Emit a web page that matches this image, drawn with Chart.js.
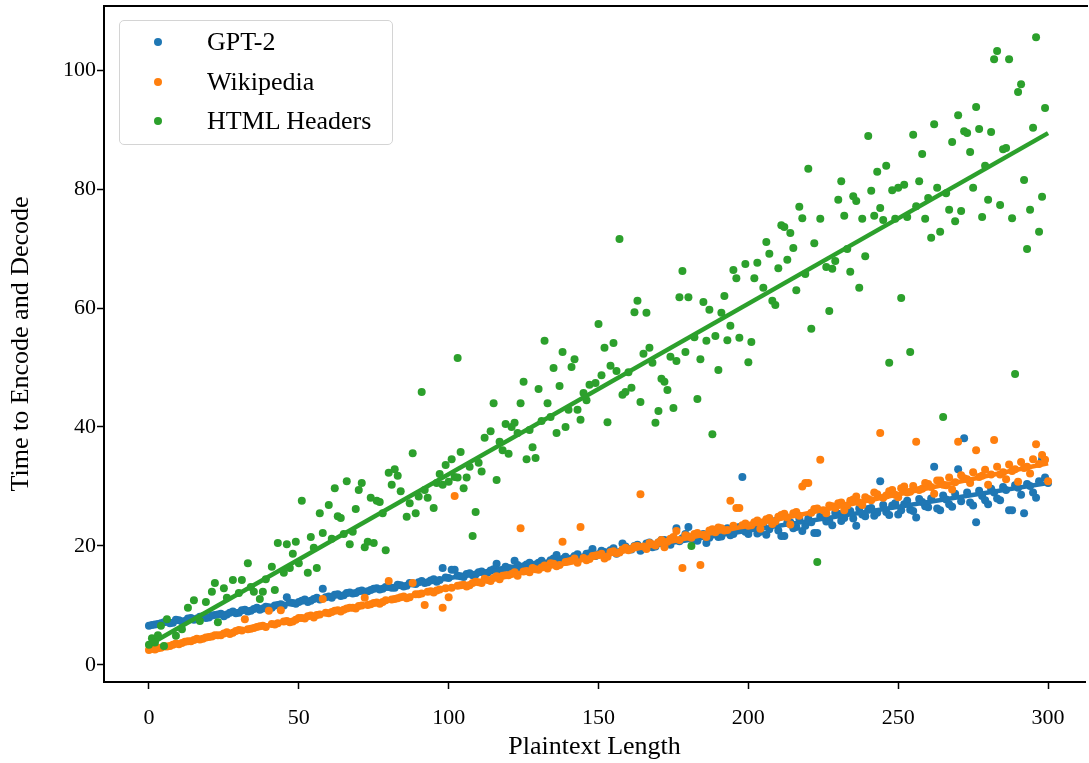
<!DOCTYPE html>
<html>
<head>
<meta charset="utf-8">
<script src="https://cdn.jsdelivr.net/npm/chart.js@4.4.1/dist/chart.umd.min.js"></script>
<style>
  html,body{margin:0;padding:0;background:#fff;overflow:hidden}
  #wrap{position:relative;width:1089px;height:763px}
  #legend{position:absolute;left:119px;top:20px;width:274px;height:125px;border:1px solid #d4d4d4;border-radius:5px;background:rgba(255,255,255,.8);
    font-family:'Liberation Serif','Times New Roman',serif;font-size:26px;color:#000;box-sizing:border-box}
  #legend .row{position:absolute;left:0;height:30px;line-height:30px}
  #legend .dot{position:absolute;left:34px;top:11px;width:8px;height:8px;border-radius:50%}
  #legend .txt{position:absolute;left:87px;top:0;white-space:nowrap}
</style>
</head>
<body>
<div id="wrap">
  <canvas id="chart" width="1089" height="763"></canvas>
  <div id="legend"></div>
</div>
<script>
// ── data ────────────────────────────────────────────────────────────────
const xTicks = [0, 50, 100, 150, 200, 250, 300];
const yTicks = [0, 20, 40, 60, 80, 100];

// GPT-2 and Wikipedia are sampled at every plaintext length 0..300
const evenLengths = Array.from({length:151}, (_, i) => i*2);
const oddLengths = Array.from({length:150}, (_, i) => i*2 + 1);

const gpt2EvenY = [
  6.6,6.8,7.0,7.3,7.1,7.5,7.4,7.9,7.8,8.2,
  8.0,8.4,8.6,8.5,9.0,8.8,9.3,9.1,9.6,9.5,
  9.7,10.0,10.2,11.4,10.4,10.6,11.0,10.8,11.3,12.8,
  11.5,11.8,11.6,12.1,12.0,12.4,12.3,12.6,12.9,12.8,
  13.1,13.0,13.4,13.3,13.7,13.9,13.8,14.2,14.0,16.3,
  14.6,16.0,14.9,15.3,15.1,15.6,15.4,15.9,17.0,16.0,
  16.3,17.5,16.4,16.9,16.7,17.2,17.0,17.6,18.5,17.8,
  17.5,18.3,18.0,18.7,19.5,18.6,19.0,19.3,18.7,20.4,
  19.5,20.0,19.2,20.4,19.8,20.6,21.0,20.2,23.0,21.3,
  23.2,21.0,21.8,20.5,22.2,21.5,22.5,21.8,22.8,31.6,
  22.0,23.5,22.4,21.9,23.8,22.6,21.7,24.0,23.2,22.5,
  24.6,22.2,25.0,24.1,23.5,25.4,24.7,25.9,23.4,25.3,
  26.2,25.1,30.9,25.7,26.8,25.3,27.0,26.1,24.8,27.4,
  26.5,33.3,26.0,27.8,26.6,32.9,38.1,27.3,24.0,28.4,
  27.0,29.0,27.7,29.4,26.0,29.8,25.5,30.1,28.1,34.6,30.6
];
const gpt2OddY = [
  6.7,6.9,7.2,7.0,7.6,7.3,7.8,7.6,8.1,7.9,
  8.3,8.5,8.2,8.8,8.7,9.2,9.0,9.4,9.3,9.8,
  9.6,10.1,10.0,10.5,10.3,10.8,10.6,11.1,11.0,11.4,
  11.3,11.9,11.7,12.2,12.1,12.5,12.4,12.8,12.7,13.1,
  13.0,13.5,13.2,13.8,13.6,14.1,13.9,14.4,14.3,14.7,
  16.0,15.0,14.8,15.4,15.2,15.7,15.5,16.1,15.9,16.5,
  16.2,16.8,16.6,17.2,16.9,17.5,17.1,17.9,17.4,18.2,
  17.9,18.6,18.1,18.8,18.3,19.2,18.6,19.6,19.0,19.9,
  19.4,20.2,19.6,20.6,19.9,21.0,20.4,21.4,20.8,22.0,
  21.2,20.9,22.0,21.4,22.6,21.6,23.0,22.0,23.2,22.4,
  23.0,22.1,23.6,22.8,24.2,21.7,23.9,23.0,24.6,23.4,
  24.0,22.2,25.2,24.3,25.6,24.2,25.8,24.6,26.3,25.0,
  26.4,25.6,26.9,25.2,27.2,26.0,27.6,25.9,27.9,26.7,
  28.0,26.3,28.5,27.0,28.8,27.5,29.0,26.8,29.3,27.7,
  29.6,28.0,29.9,26.0,30.2,28.6,30.4,29.0,30.9,31.5
];

const wikiEvenY = [
  2.5,2.6,2.9,3.1,3.4,3.5,3.9,4.0,4.4,4.4,
  4.7,5.0,5.0,5.5,5.4,5.9,7.7,6.1,6.4,6.6,
  9.1,6.8,9.2,7.4,7.3,7.9,7.8,8.3,8.4,11.1,
  8.7,9.1,9.0,9.5,9.6,9.9,11.3,10.2,10.5,10.6,
  14.1,11.1,11.4,11.2,13.8,11.9,10.1,12.4,12.5,9.6,
  11.4,28.4,13.4,13.2,13.8,13.9,14.5,14.1,14.9,15.0,
  15.1,15.6,23.0,15.8,16.3,16.0,16.7,17.1,16.6,20.7,
  17.4,17.9,23.2,17.6,18.3,18.5,17.9,19.0,18.8,19.4,
  19.3,19.9,28.7,19.5,20.3,20.6,19.8,21.2,22.5,16.3,
  21.6,22.0,16.8,21.5,22.8,23.1,22.6,27.6,26.4,23.5,
  23.4,24.0,22.9,24.5,23.7,24.9,25.4,23.6,25.7,30.0,
  30.6,26.2,34.5,25.5,26.7,27.2,26.0,27.6,28.3,26.9,
  27.9,29.0,39.0,28.5,29.4,28.2,30.0,29.1,37.5,29.6,
  30.4,28.8,31.0,30.2,29.5,37.5,31.4,30.6,36.1,31.8,
  30.3,37.8,32.0,31.2,32.6,30.8,33.1,32.2,37.1,35.3,30.9
];
const wikiOddY = [
  2.7,2.8,3.1,3.2,3.6,3.7,4.0,4.2,4.3,4.6,
  4.8,5.0,5.3,5.2,5.7,5.8,6.0,6.2,6.5,6.4,
  6.9,7.0,7.3,7.2,7.6,7.9,8.2,8.0,8.5,8.8,
  8.9,9.2,9.3,9.6,9.5,10.0,10.1,10.4,10.3,10.9,
  11.0,11.2,11.5,11.4,11.9,12.0,12.3,12.2,12.7,12.9,
  13.0,13.3,13.5,13.4,14.0,13.8,14.3,14.6,14.4,15.1,
  15.3,15.0,15.7,15.6,16.1,16.4,16.2,17.0,16.8,17.3,
  17.5,17.2,18.0,17.8,18.4,18.7,18.2,19.1,18.9,19.7,
  19.5,20.0,19.9,20.5,20.1,21.0,20.7,21.5,21.0,21.8,
  21.4,22.2,21.9,22.6,22.3,23.0,22.7,23.4,26.4,23.8,
  23.5,24.3,24.0,24.7,24.1,25.2,24.8,25.5,25.1,30.6,
  25.6,26.3,26.0,26.8,26.4,27.3,26.8,27.8,27.3,28.2,
  27.7,28.7,28.1,29.2,28.6,29.7,29.0,30.1,29.4,30.6,
  29.9,31.0,30.3,31.5,30.7,31.9,31.2,32.4,31.6,32.8,
  32.0,33.3,32.4,33.7,32.9,34.1,33.3,34.6,33.8,34.5
];

// HTML Headers samples (sparser, read point by point)
const htmlX = [
  0,1,2,3,4,5,6,9,11,13,15,17,19,21,22,23,25,26,28,30,
  31,33,34,35,37,38,39,41,42,43,45,46,47,48,49,50,51,53,54,55,
  56,57,58,60,61,62,63,64,65,66,67,68,69,70,71,72,73,74,75,76,
  77,78,79,80,81,82,83,84,86,87,88,89,90,91,92,93,95,96,97,98,
  99,100,101,102,103,103,104,105,106,107,108,109,110,111,112,114,115,116,117,118,
  119,120,121,122,123,124,125,126,127,128,129,130,131,132,133,134,135,136,137,138,
  139,140,141,142,143,144,145,146,147,149,150,151,152,153,154,155,156,157,158,159,
  160,161,162,163,164,165,166,167,168,169,170,171,172,173,174,175,176,177,178,179,
  180,181,182,183,184,185,186,187,188,189,190,191,192,193,194,195,196,197,199,200,
  201,202,203,205,206,207,208,209,210,211,212,213,214,215,216,217,218,219,220,221,
  222,223,224,226,227,228,229,230,231,232,233,234,235,236,237,238,239,240,241,242,
  243,244,245,246,247,248,249,250,251,252,253,254,255,256,257,258,259,260,261,262,
  263,264,265,266,267,268,269,270,271,272,273,274,275,276,277,278,279,280,281,282,
  283,284,285,286,287,288,289,290,291,292,293,294,295,296,297,298,299
];
const htmlY = [
  3.4,4.5,3.8,5.0,6.6,3.2,7.7,4.9,6.0,9.6,10.9,7.4,10.6,12.3,13.8,7.2,12.9,11.3,14.3,12.1,
  14.3,17.1,13.1,12.3,11.1,12.3,14.4,16.5,12.6,20.5,15.5,20.3,16.3,18.7,20.7,17.1,27.6,15.5,21.5,19.7,
  16.3,25.5,22.2,26.9,21.2,29.7,25.0,24.7,22.0,30.9,20.3,22.4,26.2,29.4,30.6,19.8,20.7,28.1,20.5,27.6,
  27.4,25.5,19.3,32.3,30.3,32.9,31.8,29.2,24.9,27.2,35.6,25.5,28.3,45.9,29.4,28.1,26.4,30.6,32.1,30.3,
  33.6,30.8,34.6,31.6,31.5,51.6,35.8,29.7,31.5,33.3,21.7,25.7,34.0,32.5,38.2,39.3,44.0,31.1,37.5,36.1,
  40.5,35.5,40.0,40.7,39.0,44.0,47.6,34.6,39.5,36.6,34.8,46.4,41.0,54.5,44.0,41.7,49.9,39.0,46.9,52.6,
  40.0,42.9,50.1,51.4,42.9,41.2,45.7,44.5,47.1,47.4,57.3,48.7,53.3,40.8,50.3,54.1,49.4,71.6,45.4,45.9,
  49.2,46.6,59.3,61.2,44.2,52.3,59.2,53.3,50.8,40.7,42.7,48.1,47.6,46.2,51.8,43.2,51.1,61.8,66.2,52.6,
  61.8,20.0,55.1,44.7,51.4,61.0,54.5,59.7,38.8,55.3,49.6,59.2,62.0,54.6,57.0,66.4,65.0,55.0,67.4,50.9,
  54.3,65.0,67.6,63.4,71.1,69.1,61.2,60.5,66.7,73.9,73.6,68.1,72.6,70.1,63.0,77.0,75.1,65.7,83.4,56.5,
  70.9,17.3,75.0,66.9,59.5,66.6,67.9,78.2,81.3,75.5,69.9,66.1,78.8,78.0,63.4,75.0,68.7,88.9,79.7,75.5,
  82.9,76.8,74.8,83.9,50.8,79.8,75.0,80.2,61.7,80.7,75.3,52.6,89.1,77.1,81.3,85.9,75.0,78.5,71.8,90.9,
  80.2,72.8,41.7,79.3,76.5,87.9,74.6,92.4,76.3,89.7,89.4,86.2,80.2,93.8,90.1,75.3,83.9,78.2,89.6,101.8,
  103.2,77.3,86.7,86.9,101.8,75.1,48.9,96.3,97.6,81.5,69.9,76.5,90.3,105.5,72.8,78.7,93.6
];

// least-squares fit end points
const fitX = [0, 300];
const gpt2Fit = [6.6, 30.6];
const wikiFit = [2.5, 33.9];
const htmlFit = [3.4, 89.4];

const series = [
  {label:'GPT-2', color:'#1f77b4'},
  {label:'Wikipedia', color:'#ff7f0e'},
  {label:'HTML Headers', color:'#2ca02c'},
];

// ── chart ───────────────────────────────────────────────────────────────
const pts = (xs, ys) => xs.map((x, i) => ({x, y: ys[i]}));
const font = {family: "'Liberation Serif', 'Times New Roman', serif", size: 22};
const titleFont = {family: "'Liberation Serif', 'Times New Roman', serif", size: 26};

function scatterSet(s, data, order) {
  return {type:'scatter', label:s.label, data, order, backgroundColor:s.color, borderWidth:0,
    pointRadius:4, pointHoverRadius:4};
}
function fitSet(s, ys, order) {
  return {type:'line', label:s.label+' fit', data:pts(fitX, ys), order, borderColor:s.color,
    borderWidth:4.5, pointRadius:0, fill:false, tension:0};
}

const topSpine = {
  id:'topSpine',
  afterDraw(chart) {
    const {ctx, chartArea:a} = chart;
    ctx.save();
    ctx.strokeStyle = '#000'; ctx.lineWidth = 2;
    ctx.beginPath(); ctx.moveTo(a.left - 1, a.top); ctx.lineTo(a.right + 3, a.top); ctx.stroke();
    ctx.restore();
  }
};

new Chart(document.getElementById('chart'), {
  data: {
    datasets: [
      scatterSet(series[0], pts(evenLengths, gpt2EvenY).concat(pts(oddLengths, gpt2OddY)), 6),
      fitSet(series[0], gpt2Fit, 5),
      scatterSet(series[1], pts(evenLengths, wikiEvenY).concat(pts(oddLengths, wikiOddY)), 4),
      fitSet(series[1], wikiFit, 3),
      scatterSet(series[2], pts(htmlX, htmlY), 2),
      fitSet(series[2], htmlFit, 1),
    ]
  },
  options: {
    responsive:false, animation:false, devicePixelRatio:1,
    layout:{padding:{top:6, right:0, left:0, bottom:0}},
    plugins:{legend:{display:false}, tooltip:{enabled:false}},
    scales:{
      x:{type:'linear', min:-15, max:312.33,
        afterFit(s){ s.height = 81; s.paddingLeft = 0; s.paddingRight = 0; },
        afterBuildTicks(s){ s.ticks = xTicks.map(v => ({value:v})); },
        grid:{drawOnChartArea:false, drawTicks:true, tickLength:7, tickWidth:1.5, tickColor:'#000'},
        border:{color:'#000', width:2},
        ticks:{color:'#000', font, padding:16, maxRotation:0, autoSkip:false},
        title:{display:true, text:'Plaintext Length', color:'#000', font:titleFont, padding:{top:0, bottom:0}}
      },
      y:{type:'linear', min:-2.86, max:110.76,
        afterFit(s){ s.width = 104; s.paddingTop = 0; s.paddingBottom = 0; },
        afterBuildTicks(s){ s.ticks = yTicks.map(v => ({value:v})); },
        grid:{drawOnChartArea:false, drawTicks:true, tickLength:7, tickWidth:1.5, tickColor:'#000'},
        border:{color:'#000', width:2},
        ticks:{color:'#000', font, padding:1, autoSkip:false},
        title:{display:true, text:'Time to Encode and Decode', color:'#000', font:titleFont, padding:{top:6, bottom:0}}
      }
    }
  },
  plugins:[topSpine]
});

// legend as real text over the axes
const legend = document.getElementById('legend');
series.forEach((s, i) => {
  const row = document.createElement('div');
  row.className = 'row';
  row.style.top = (6 + i*39.5) + 'px';
  row.innerHTML = `<span class="dot" style="background:${s.color}"></span><span class="txt">${s.label}</span>`;
  legend.appendChild(row);
});
</script>
</body>
</html>
